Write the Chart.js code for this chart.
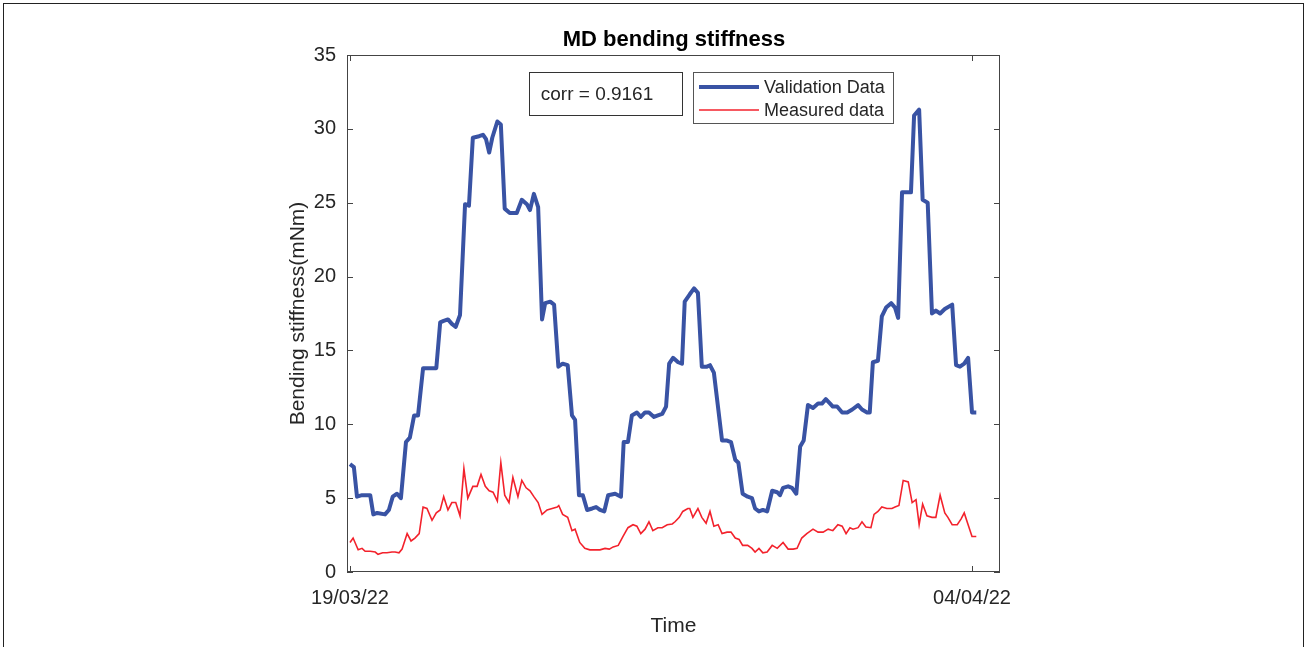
<!DOCTYPE html>
<html>
<head>
<meta charset="utf-8">
<script src="https://cdn.jsdelivr.net/npm/chart.js@4.4.1/dist/chart.umd.min.js"></script>
<style>
  html, body { margin: 0; padding: 0; background: #fff; overflow: hidden; }
  #frame { position: absolute; left: 3px; top: 3px; width: 1301px; height: 700px; border: 1px solid #222; box-sizing: border-box; }
  #wrap { position: absolute; left: 0; top: 0; width: 1307px; height: 647px; }
</style>
</head>
<body>
<div id="frame"></div>
<div id="wrap"><canvas id="myChart" width="1307" height="647"></canvas></div>
<script>
// days since 19/03/22
let valDays = [0,0.10,0.18,0.31,0.52,0.60,0.70,0.90,1.00,1.10,
  1.21,1.31,1.44,1.54,1.65,1.75,1.88,2.22,2.32,2.41,
  2.52,2.62,2.72,2.83,2.96,3.06,3.16,3.32,3.42,3.50,
  3.58,3.66,3.79,3.88,3.98,4.11,4.29,4.42,4.55,4.63,
  4.73,4.84,4.94,5.02,5.15,5.25,5.36,5.47,5.60,5.71,
  5.79,5.89,5.99,6.10,6.23,6.33,6.43,6.54,6.64,6.82,
  6.97,7.04,7.15,7.25,7.38,7.48,7.59,7.69,7.82,7.92,
  8.03,8.13,8.21,8.31,8.44,8.54,8.61,8.74,8.85,8.95,
  9.05,9.18,9.26,9.36,9.57,9.70,9.80,9.91,9.99,10.10,
  10.23,10.34,10.42,10.52,10.62,10.73,10.86,10.99,11.06,11.14,
  11.27,11.37,11.48,11.58,11.67,11.78,11.91,12.04,12.14,12.24,
  12.35,12.42,12.53,12.66,12.79,12.92,13.07,13.17,13.30,13.37,
  13.45,13.58,13.68,13.79,13.92,14.02,14.10,14.20,14.33,14.43,
  14.51,14.64,14.73,14.86,14.97,15.07,15.18,15.30,15.49,15.59,
  15.69,15.80,15.90,16.00,16.11]
let valStiff = [7.3,7.1,5.1,5.2,5.2,3.9,4.0,3.9,4.2,5.1,
  5.3,5.0,8.8,9.1,10.6,10.6,13.8,13.8,16.9,17.0,
  17.1,16.8,16.6,17.4,24.9,24.8,29.4,29.5,29.6,29.3,
  28.4,29.4,30.5,30.3,24.6,24.3,24.3,25.2,24.9,24.5,
  25.6,24.7,17.1,18.2,18.3,18.1,13.9,14.1,14.0,10.6,
  10.3,5.2,5.2,4.2,4.3,4.4,4.2,4.1,5.2,5.3,
  5.1,8.8,8.8,10.6,10.8,10.5,10.8,10.8,10.5,10.6,
  10.7,11.2,14.1,14.5,14.2,14.1,18.3,18.8,19.2,18.9,
  13.9,13.9,14.0,13.5,8.9,8.9,8.8,7.6,7.4,5.3,
  5.1,5.0,4.3,4.1,4.2,4.1,5.5,5.4,5.2,5.7,
  5.8,5.7,5.3,8.5,8.9,11.3,11.1,11.4,11.4,11.7,
  11.4,11.2,11.2,10.8,10.8,11.0,11.3,11.0,10.8,10.8,
  14.2,14.3,17.3,17.9,18.2,17.9,17.2,25.7,25.7,25.7,
  30.9,31.3,25.2,25.0,17.5,17.7,17.5,17.8,18.1,14.0,
  13.9,14.1,14.5,10.8,10.8]

let measDays = [0,0.08,0.21,0.31,0.39,0.52,0.65,0.72,0.84,0.95,
  1.08,1.16,1.26,1.34,1.47,1.57,1.67,1.78,1.88,1.98,
  2.11,2.22,2.32,2.41,2.52,2.62,2.72,2.83,2.93,3.03,
  3.16,3.27,3.37,3.48,3.58,3.68,3.79,3.88,3.98,4.09,
  4.19,4.32,4.42,4.53,4.63,4.73,4.84,4.94,5.07,5.20,
  5.33,5.37,5.47,5.60,5.71,5.79,5.91,6.04,6.17,6.30,
  6.43,6.56,6.67,6.77,6.90,7.02,7.15,7.28,7.38,7.48,
  7.59,7.69,7.79,7.92,8.03,8.16,8.29,8.36,8.47,8.56,
  8.69,8.74,8.82,8.95,9.05,9.16,9.26,9.36,9.47,9.57,
  9.70,9.80,9.91,10.01,10.10,10.23,10.34,10.42,10.52,10.62,
  10.73,10.86,10.99,11.14,11.27,11.40,11.50,11.62,11.75,11.91,
  12.04,12.17,12.30,12.42,12.55,12.66,12.76,12.86,12.94,13.07,
  13.17,13.27,13.40,13.48,13.58,13.68,13.81,13.94,14.02,14.12,
  14.23,14.36,14.46,14.56,14.64,14.73,14.84,14.97,15.07,15.18,
  15.30,15.38,15.49,15.62,15.72,15.80,15.90,16.00,16.11]
let measStiff = [2.0,2.3,1.5,1.6,1.4,1.4,1.35,1.2,1.3,1.3,
  1.35,1.35,1.3,1.55,2.6,2.1,2.3,2.6,4.4,4.3,
  3.5,4.0,4.2,5.1,4.2,4.7,4.7,3.8,7.0,5.0,
  5.8,5.8,6.6,5.8,5.5,5.4,4.8,7.4,5.2,4.7,
  6.4,5.1,6.2,5.7,5.5,5.1,4.7,3.9,4.2,4.3,
  4.4,4.5,3.9,3.7,2.8,2.9,2.0,1.6,1.5,1.5,
  1.5,1.6,1.55,1.7,1.8,2.4,3.0,3.2,3.1,2.6,
  2.9,3.4,2.8,3.0,3.0,3.2,3.25,3.4,3.7,4.1,
  4.3,4.3,3.7,4.3,3.7,3.3,4.1,3.1,3.2,2.6,
  2.7,2.7,2.3,2.2,1.8,1.8,1.6,1.35,1.6,1.3,
  1.35,1.8,1.6,2.0,1.55,1.55,1.6,2.3,2.6,2.9,
  2.7,2.7,2.9,2.8,3.2,3.1,2.6,3.0,2.9,3.0,
  3.4,3.05,3.0,3.9,4.1,4.4,4.3,4.3,4.4,4.5,
  6.2,6.1,4.7,4.9,3.2,4.6,3.8,3.7,3.7,5.2,
  4.0,3.7,3.2,3.2,3.6,4.0,3.2,2.4,2.4]

let xTickValues = [0, 16]
let xTickLabels = ['19/03/22', '04/04/22']
let corrText = 'corr = 0.9161'
let titleText = 'MD bending stiffness'

const FONT = '"Liberation Sans", Arial, Helvetica, sans-serif'
const TXT = '#262626'

function toPoints(xs, ys){
  let pts = []
  for (let i = 0; i < xs.length; i++) pts.push({x: xs[i], y: ys[i]})
  return pts
}

// box, inward ticks, title, corr box and legend, matlab style
const matlabDeco = {
  id: 'matlabDeco',
  afterDraw(chart){
    const {ctx, chartArea: a, scales} = chart
    ctx.save()
    ctx.strokeStyle = '#444'
    ctx.lineWidth = 1
    ctx.strokeRect(a.left + 0.5, a.top + 0.5, a.right - a.left - 1, a.bottom - a.top - 1)
    ctx.beginPath()
    scales.y.ticks.forEach(t => {
      let py = Math.round(scales.y.getPixelForValue(t.value)) + 0.5
      ctx.moveTo(a.left, py); ctx.lineTo(a.left + 6, py)
      ctx.moveTo(a.right, py); ctx.lineTo(a.right - 6, py)
    })
    xTickValues.forEach(v => {
      let px = Math.round(scales.x.getPixelForValue(v)) + 0.5
      ctx.moveTo(px, a.bottom); ctx.lineTo(px, a.bottom - 6)
      ctx.moveTo(px, a.top); ctx.lineTo(px, a.top + 6)
    })
    ctx.stroke()

    // title
    ctx.fillStyle = '#000'
    ctx.font = 'bold 22px ' + FONT
    ctx.textAlign = 'center'
    ctx.textBaseline = 'middle'
    ctx.fillText(titleText, 674, 40)

    // corr box
    ctx.fillStyle = '#fff'
    ctx.fillRect(529.5, 72.5, 153, 43)
    ctx.strokeStyle = '#333'
    ctx.strokeRect(529.5, 72.5, 153, 43)
    ctx.fillStyle = TXT
    ctx.font = '19px ' + FONT
    ctx.fillText(corrText, 597, 95)

    // legend
    ctx.fillStyle = '#fff'
    ctx.fillRect(693.5, 72.5, 200, 51)
    ctx.strokeStyle = '#555'
    ctx.strokeRect(693.5, 72.5, 200, 51)
    ctx.textAlign = 'left'
    ctx.font = '18px ' + FONT
    chart.data.datasets.forEach((ds, i) => {
      let ly = 87 + i * 23
      ctx.strokeStyle = ds.borderColor
      ctx.lineWidth = ds.borderWidth
      ctx.beginPath(); ctx.moveTo(699, ly); ctx.lineTo(759, ly); ctx.stroke()
      ctx.fillStyle = TXT
      ctx.fillText(ds.label, 764, ly + 1)
    })
    ctx.restore()
  }
}

let ctx = document.getElementById('myChart').getContext('2d')
let myChart = new Chart(ctx, {
  type: 'line',
  data: {
    datasets: [{
      label: 'Validation Data',
      data: toPoints(valDays, valStiff),
      borderColor: '#3953a4',
      borderWidth: 4,
      borderJoinStyle: 'round',
      pointRadius: 0,
      tension: 0
    }, {
      label: 'Measured data',
      data: toPoints(measDays, measStiff),
      borderColor: '#f3222c',
      borderWidth: 1.6,
      pointRadius: 0,
      tension: 0
    }]
  },
  options: {
    responsive: false,
    animation: false,
    layout: { padding: { left: 0, top: 55, right: 307, bottom: 0 } },
    plugins: {
      legend: { display: false },
      tooltip: { enabled: false }
    },
    scales: {
      x: {
        type: 'linear',
        min: -0.077,
        max: 16.72,
        grid: { display: false },
        border: { display: false },
        afterFit: s => { s.height = 75 },
        afterBuildTicks: s => { s.ticks = xTickValues.map(v => ({value: v})) },
        ticks: {
          autoSkip: false,
          maxRotation: 0,
          padding: 6,
          color: TXT,
          font: { family: FONT, size: 20 },
          callback: v => xTickLabels[xTickValues.indexOf(v)]
        },
        title: {
          display: true,
          text: 'Time',
          color: TXT,
          font: { family: FONT, size: 21 },
          padding: { top: 0, bottom: 8 }
        }
      },
      y: {
        min: 0,
        max: 35,
        grid: { display: false },
        border: { display: false },
        afterFit: s => { s.width = 347 },
        ticks: {
          stepSize: 5,
          padding: 3,
          color: TXT,
          font: { family: FONT, size: 20 }
        },
        title: {
          display: true,
          text: 'Bending stiffness(mNm)',
          color: TXT,
          font: { family: FONT, size: 21 },
          padding: { top: 286, bottom: 0 }
        }
      }
    }
  },
  plugins: [matlabDeco]
})
</script>
</body>
</html>
